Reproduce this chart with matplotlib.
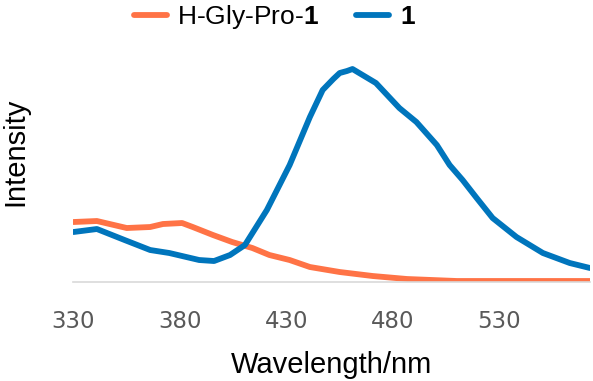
import matplotlib
matplotlib.use("Agg")
import matplotlib.pyplot as plt

plt.rcParams["font.family"] = ["Liberation Sans", "DejaVu Sans"]
plt.rcParams["mathtext.fontset"] = "custom"
plt.rcParams["mathtext.bf"] = "Liberation Sans:bold"
plt.rcParams["mathtext.rm"] = "Liberation Sans"

# ---- data ----
wl_blue = [330, 341, 354, 366, 375, 389, 396, 403.5, 410.5, 420.8, 431.5, 441,
           447, 452, 455, 458.4, 461, 472, 483, 491, 500.6, 506.6, 512.7, 519.3,
           526.8, 538, 550.4, 563, 572.5]
int_blue = [50, 53, 42, 32, 29, 22, 21, 27, 37, 72, 117, 165,
            192, 203, 209, 211, 213, 199, 174, 160, 137, 117, 102, 84,
            64, 45, 29, 19, 14]

wl_orange = [330, 341, 355, 366, 372, 381, 386, 395.5, 404.5, 414, 422, 431.5,
             441, 455, 470.5, 486.6, 510, 572.5]
int_orange = [60, 61, 54, 55, 58, 59, 55, 47, 40, 34, 27, 22,
              15, 10, 6, 3, 1, 1]

xticks = [330, 380, 430, 480, 530]

orange = "#FF7346"
blue = "#0075BC"

fig = plt.figure(figsize=(5.93, 3.81), dpi=100)
ax = fig.add_axes([0.1239, 0.2598, 0.871, 0.5827])

ax.plot(wl_orange, int_orange, color=orange, lw=4.2, solid_capstyle="round",
        solid_joinstyle="round", label=r"H-Gly-Pro-$\mathbf{1}$")
ax.plot(wl_blue, int_blue, color=blue, lw=4.2, solid_capstyle="round",
        solid_joinstyle="round", label=r"$\mathbf{1}$")

ax.set_xlim(330, 572.5)
ax.set_ylim(0, 222)

for s in ["top", "right", "left"]:
    ax.spines[s].set_visible(False)
ax.spines["bottom"].set_color("#D9D9D9")
ax.spines["bottom"].set_linewidth(1.2)

ax.set_yticks([])
ax.set_xticks(xticks)
ax.set_xticklabels([str(t) for t in xticks], family="DejaVu Sans",
                   fontsize=16.5, color="#595959")
ax.tick_params(axis="x", length=0, pad=20)

ax.set_xlabel("Wavelength/nm", fontsize=21, labelpad=13)
fig.text(15 / 593, 0.602, "Intensity", rotation=90, fontsize=21,
         ha="center", va="center")

fig.legend(loc="center", bbox_to_anchor=(0.463, 0.955), ncol=2, frameon=False,
           fontsize=19, handlelength=1.25, handletextpad=0.4,
           columnspacing=1.4)

fig.savefig("out.png", dpi=100)
